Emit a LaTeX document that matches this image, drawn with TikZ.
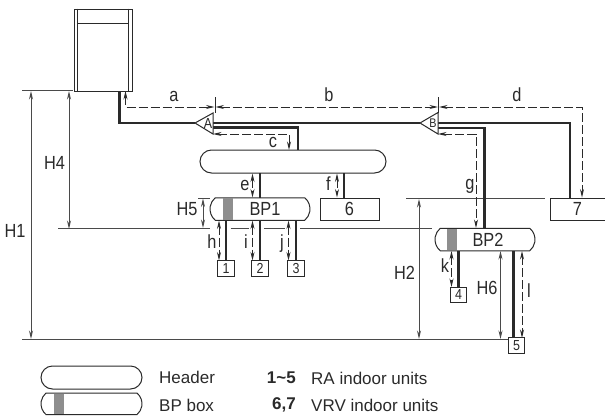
\documentclass[tikz,border=0pt]{standalone}
\usepackage{fontspec}
\setmainfont{Liberation Sans}
\newfontfamily\labfont[FakeStretch=0.86]{Liberation Sans}
\usetikzlibrary{arrows.meta,shapes.misc,calc}
\definecolor{ink}{HTML}{2A2A2A}
\definecolor{barg}{HTML}{8E8E8E}
\tikzset{
  thinline/.style={draw=ink,line width=0.9pt},
  levelline/.style={draw=ink!85,line width=1pt},
  pipe/.style={draw=ink,line width=2.5pt,line join=miter},
  dim/.style={draw=ink!85,line width=0.9pt,{Stealth[length=8.5pt,width=4pt]}-{Stealth[length=8.5pt,width=4pt]}},
  dashdim/.style={draw=ink,line width=0.9pt,dash pattern=on 9pt off 3pt,{Stealth[length=8.5pt,width=4pt]}-{Stealth[length=8.5pt,width=4pt]}},
  lab/.style={inner sep=0pt,text=ink,font=\labfont\fontsize{19}{19}\selectfont},
  leg/.style={inner sep=0pt,text=ink,font=\fontsize{17}{18}\selectfont},
  unit/.style={draw=ink,line width=0.9pt,fill=white,minimum width=16.5pt,minimum height=15.5pt,inner sep=0pt,text=ink,font=\labfont\fontsize{14.5}{14.5}\selectfont},
  bigunit/.style={draw=ink,line width=0.9pt,fill=white,minimum height=22pt,inner sep=0pt,text=ink,font=\labfont\fontsize{19}{19}\selectfont},
  headerbox/.style={draw=ink,line width=1pt,fill=white,rounded rectangle,minimum width=186pt,minimum height=23pt,inner sep=0pt},
  bpbox/.style={draw=ink,line width=1pt,rounded rectangle,rounded rectangle arc length=100,minimum width=100pt,minimum height=22.5pt,inner sep=0pt,text=ink,font=\labfont\fontsize{19}{19}\selectfont},
  barbox/.style={fill=barg,minimum width=10pt,minimum height=21.5pt,inner sep=0pt},
  split/.style={draw=ink,line width=1pt,fill=white,line join=miter},
}
\begin{document}
\begin{tikzpicture}[x=1pt,y=-1pt]
\useasboundingbox (0,0) rectangle (605,415);

% level lines
\coordinate (l0a) at (22,90.5); \coordinate (l0b) at (73,90.5);
\coordinate (l1a) at (22,339); \coordinate (l1b) at (508,339);
\coordinate (l2a) at (406,198.5); \coordinate (l2b) at (545,198.5);
\coordinate (l3a) at (198,198); \coordinate (l3b) at (210,198);
\draw[levelline] (l0a) -- (l0b);
\draw[levelline] (l1a) -- (l1b);
\draw[levelline] (l2a) -- (l2b);
\draw[levelline] (l3a) -- (l3b);
\draw[levelline] (58,228) -- (210,228);
\draw[levelline] (230.5,228) -- (248.5,228);
\draw[levelline] (264,228) -- (284.5,228);
\draw[levelline] (300,228) -- (432,228);

% outdoor unit
\node[draw=ink,line width=1pt,minimum width=58pt,minimum height=82pt,inner sep=0pt] (out) at (103,50) {};
\draw[thinline] ([xshift=4pt]out.north west) -- ([xshift=4pt]out.south west);
\draw[thinline] ([xshift=-4pt]out.north east) -- ([xshift=-4pt]out.south east);
\draw[thinline] ([xshift=4pt,yshift=-15pt]out.north west) -- ([xshift=-4pt,yshift=-15pt]out.north east);

% header, BP boxes, units
\node[headerbox] (hdr) at (293,161.5) {};
\node[bpbox] (bp1) at (260,209) {\hspace*{10pt}BP1};
\node[bpbox] (bp2) at (485,239.5) {\hspace*{6pt}BP2};
\node[barbox] (bar1) at (227.5,209) {};
\node[barbox] (bar2) at (452,239.5) {};
\node[bigunit,minimum width=59pt] (u6) at (349.5,209) {6};
\node[bigunit,minimum width=55pt] (u7) at (577.5,209) {7};
\node[unit] (u1) at (226,268.5) {1};
\node[unit] (u2) at (260,268.5) {2};
\node[unit] (u3) at (296,268.5) {3};
\node[unit] (u4) at (458.5,295) {4};
\node[unit] (u5) at (516.5,345.5) {5};

% splitters
\coordinate (tA) at (195,123); \coordinate (tAu) at (213,113); \coordinate (tAd) at (213,134);
\coordinate (tB) at (420,123); \coordinate (tBu) at (438,112.5); \coordinate (tBd) at (438,134);

% pipes
\draw[pipe] (119.5,91) |- (tA);
\draw[pipe] (213,123) -- (tB);
\draw[pipe] (213,127.5) -| (298,150);
\draw[pipe] (438,123) -| (u7.north -| 570,0);
\draw[pipe] (438,128) -| (484.5,228);
\draw[pipe] (260,173) -- (260,198);
\draw[pipe] (344,173) -- (344,198);
\draw[pipe] (u1.north) -- (bp1.south -| u1.north);
\draw[pipe] (u2.north) -- (bp1.south -| u2.north);
\draw[pipe] (u3.north) -- (bp1.south -| u3.north);
\draw[pipe] (u4.north) -- (bp2.south -| u4.north);
\draw[pipe,line width=3pt] (513.5,338) -- (bp2.south -| 513.5,0);

\draw[split] (tA) -- (tAu) -- (tAd) -- cycle;
\draw[split] (tB) -- (tBu) -- (tBd) -- cycle;
\node[inner sep=0pt,text=ink,font=\labfont\fontsize{14.5}{14.5}\selectfont] (nA) at (208,123.5) {A};
\node[inner sep=0pt,text=ink,font=\labfont\fontsize{12.5}{12.5}\selectfont] (nB) at (433,123) {B};

% height dimensions
\draw[dim] (31,91) -- (31,339);
\draw[dim] (69,91) -- (69,229);
\draw[dim] (203,198.5) -- (203,228);
\draw[dim] (419,199) -- (419,339);
\draw[dim] (500.5,251) -- (500.5,339);

% length dimensions
\draw[thinline] (215,97) -- (215,113);
\draw[thinline] (438.5,97) -- (438.5,113);
\draw[dashdim] (125.5,91) |- (214.5,107);
\draw[dashdim] (215.5,107) -- (438,107);
\draw[dashdim] (439,107) -| (u7.north -| 582,0);
\draw[dashdim] (213,134) -| (289,150);
\draw[dashdim] (438,134) -| (476,228);
\draw[dashdim] (252.5,173.5) -- (252.5,197.5);
\draw[dashdim] (337,173.5) -- (337,197.5);
\draw[dashdim] (219,220.5) -- (219,260.5);
\draw[dashdim] (252.5,220.5) -- (252.5,260.5);
\draw[dashdim] (288.5,220.5) -- (288.5,260.5);
\draw[dashdim] (451.5,251) -- (451.5,287);
\draw[dashdim] (522,251) -- (522,338);

% labels
\node[lab] (H1) at (15,231) {H1};
\node[lab] (H4) at (54.5,163) {H4};
\node[lab] (H5) at (187,209) {H5};
\node[lab] (H2) at (404.5,273) {H2};
\node[lab] (H6) at (487,288) {H6};
\node[lab] (la) at (174,96) {a};
\node[lab] (lb) at (329,95) {b};
\node[lab] (ld) at (517,95) {d};
\node[lab] (lc) at (273,142) {c};
\node[lab] (le) at (245,185) {e};
\node[lab] (lf) at (328.5,184) {f};
\node[lab] (lg) at (470,186) {g};
\node[lab] (lh) at (212,242) {h};
\node[lab] (li) at (246,242) {i};
\node[lab] (lj) at (282,244) {j};
\node[lab] (lk) at (445,266) {k};
\node[lab] (ll) at (529,291) {l};

% legend
\node[draw=ink,line width=1pt,rounded rectangle,minimum width=101pt,minimum height=23pt,inner sep=0pt] (lh1) at (91.5,377.5) {};
\node[bpbox,minimum width=101pt,minimum height=21.5pt] (lb1) at (91.5,403.8) {};
\node[barbox,minimum height=20.5pt] (lb2) at (59,403.8) {};
\node[leg,anchor=west] (t1) at (159,377) {Header};
\node[leg,anchor=west] (t2) at (159,405) {BP box};
\node[leg,anchor=east,font=\bfseries\fontsize{17}{18}\selectfont] (t3) at (296,378) {1\textasciitilde5};
\node[leg,anchor=east,font=\bfseries\fontsize{17}{18}\selectfont] (t4) at (296,405) {6,7};
\node[leg,anchor=west] (t5) at (311,378) {RA indoor units};
\node[leg,anchor=west] (t6) at (311,405) {VRV indoor units};
\end{tikzpicture}
\end{document}
